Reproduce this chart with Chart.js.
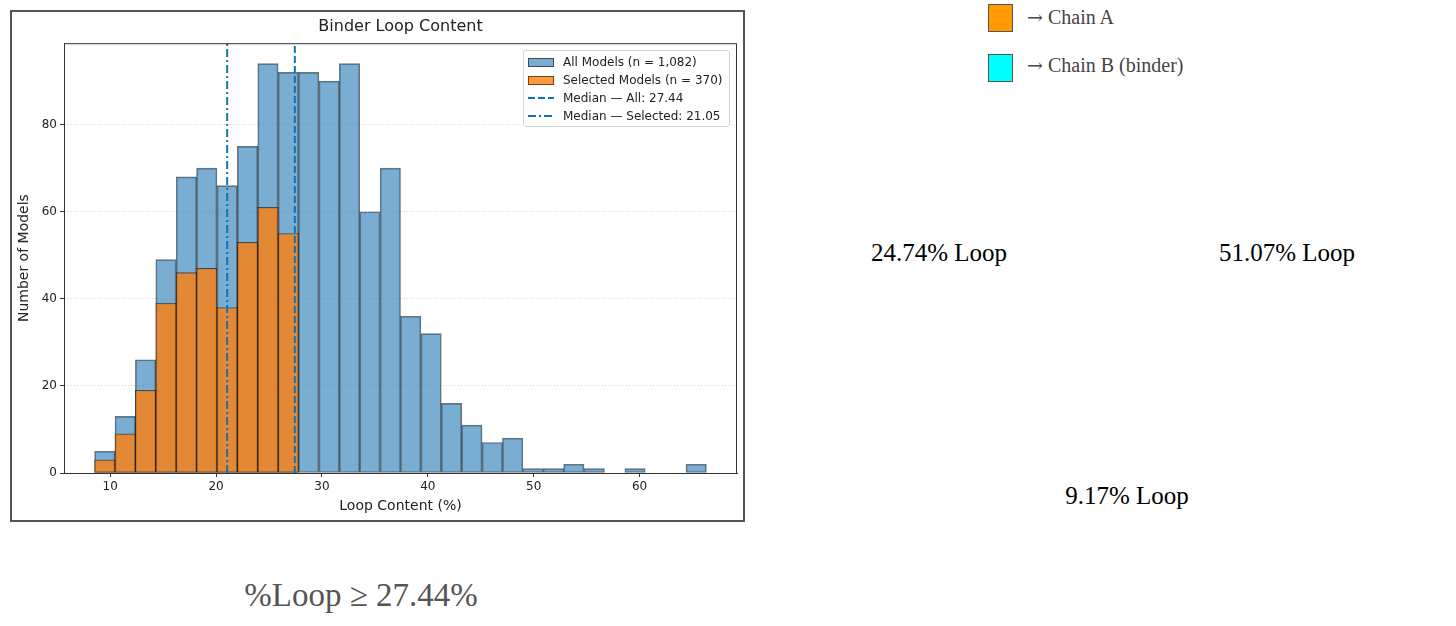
<!DOCTYPE html>
<html>
<head>
<meta charset="utf-8">
<title>Binder Loop Content</title>
<script src="https://cdn.jsdelivr.net/npm/chart.js@4.4.1/dist/chart.umd.min.js"></script>
<style>
  body {
    margin: 0;
    width: 1456px;
    height: 626px;
    background: #fff;
    position: relative;
    overflow: hidden;
    font-family: "DejaVu Sans", sans-serif;
  }
  #box {
    position: absolute;
    left: 10px;
    top: 10px;
    width: 731px;
    height: 508px;
    border: 2px solid #555;
  }
  #legend {
    position: absolute;
    left: 511px;
    top: 38px;
    padding: 2px 6px 1px 4px;
    border: 1px solid #d4d4d4;
    border-radius: 3px;
    background: rgba(255, 255, 255, 0.85);
    font-size: 12px;
    color: #222;
  }
  #legend .row { height: 18px; display: flex; align-items: center; white-space: nowrap; }
  #legend .sw { width: 26px; height: 10px; margin-right: 9px; flex: none; }
  .serif { position: absolute; font-family: "Liberation Serif", serif; white-space: nowrap; line-height: 1.15; }
  .arrow { font-family: "DejaVu Serif", serif; font-size: 19px; }
  .sq { position: absolute; width: 23px; height: 26px; border: 1.5px solid #555; }
</style>
</head>
<body>
<div id="box">
  <canvas id="hist" width="731" height="508"></canvas>
  <div id="legend"></div>
</div>

<div class="sq" style="left:988px; top:4px; background:#ff9a00;"></div>
<div class="serif" style="left:1027px; top:6px; font-size:20px; color:#444;"><span class="arrow">→</span> Chain A</div>
<div class="sq" style="left:988px; top:54px; background:#00ffff;"></div>
<div class="serif" style="left:1027px; top:54px; font-size:20px; color:#444;"><span class="arrow">→</span> Chain B (binder)</div>

<div class="serif" style="left:939px; top:239px; font-size:25px; color:#000; transform:translateX(-50%);">24.74% Loop</div>
<div class="serif" style="left:1287px; top:239px; font-size:25px; color:#000; transform:translateX(-50%);">51.07% Loop</div>
<div class="serif" style="left:1127px; top:482px; font-size:25px; color:#000; transform:translateX(-50%);">9.17% Loop</div>

<div class="serif" style="left:361px; top:577px; font-size:33px; color:#555; transform:translateX(-50%);">%Loop ≥ 27.44%</div>

<script>
// histogram bins (centre of each bin, % loop content)
const binCenters = [
  9.493, 11.419, 13.345, 15.271, 17.197, 19.123, 21.049, 22.975, 24.901, 26.827,
  28.753, 30.679, 32.605, 34.531, 36.457, 38.383, 40.309, 42.235, 44.161, 46.087,
  48.013, 49.939, 51.865, 53.791, 55.717, 57.643, 59.569, 61.495, 63.421, 65.347
];
const allCounts = [
  5, 13, 26, 49, 68, 70, 66, 75, 94, 92,
  92, 90, 94, 60, 70, 36, 32, 16, 11, 7,
  8, 1, 1, 2, 1, 0, 1, 0, 0, 2
];
const selectedCounts = [
  3, 9, 19, 39, 46, 47, 38, 53, 61, 55,
  null, null, null, null, null, null, null, null, null, null,
  null, null, null, null, null, null, null, null, null, null
];
const medianAll = 27.44;
const medianSelected = 21.05;

const xTicks = [10, 20, 30, 40, 50, 60];
const yTicks = [0, 20, 40, 60, 80];
const xRange = [5.64, 69.2];
const yRange = [0, 98.7];

const labels = [
  "All Models (n = 1,082)",
  "Selected Models (n = 370)",
  "Median — All: 27.44",
  "Median — Selected: 21.05"
];

const blue = "rgba(31,119,180,0.6)";
const orange = "rgba(255,127,14,0.8)";
const edge = "rgba(0,0,0,0.55)";
const lineBlue = "#0a74b8";

function points(ys) {
  return binCenters.map((x, i) => ({ x: x, y: ys[i] }));
}

// top/right spines like matplotlib
const frame = {
  id: "frame",
  afterDatasetsDraw(chart) {
    const a = chart.chartArea, ctx = chart.ctx;
    ctx.save();
    ctx.strokeStyle = "#333";
    ctx.lineWidth = 1;
    ctx.strokeRect(a.left + 0.5, a.top + 0.5, a.right - a.left - 1, a.bottom - a.top);
    ctx.restore();
  }
};

const ctx = document.getElementById("hist").getContext("2d");
const hist = new Chart(ctx, {
  type: "bar",
  data: {
    datasets: [
      {
        label: labels[0],
        data: points(allCounts),
        backgroundColor: blue,
        borderColor: edge,
        borderWidth: 1,
        borderSkipped: false,
        grouped: false,
        barPercentage: 1,
        categoryPercentage: 1,
        order: 3
      },
      {
        label: labels[1],
        data: points(selectedCounts),
        backgroundColor: orange,
        borderColor: edge,
        borderWidth: 1,
        borderSkipped: false,
        grouped: false,
        barPercentage: 1,
        categoryPercentage: 1,
        order: 2
      },
      {
        type: "line",
        label: labels[2],
        data: [{ x: medianAll, y: yRange[0] }, { x: medianAll, y: yRange[1] }],
        borderColor: lineBlue,
        borderWidth: 2,
        borderDash: [7, 3],
        pointRadius: 0,
        order: 1
      },
      {
        type: "line",
        label: labels[3],
        data: [{ x: medianSelected, y: yRange[0] }, { x: medianSelected, y: yRange[1] }],
        borderColor: lineBlue,
        borderWidth: 2,
        borderDash: [8, 3, 2, 3],
        pointRadius: 0,
        order: 0
      }
    ]
  },
  options: {
    responsive: false,
    animation: false,
    layout: { padding: { left: 0, right: 6, top: 0, bottom: 0 } },
    plugins: {
      legend: { display: false },
      tooltip: { enabled: false },
      title: {
        display: true,
        text: "Binder Loop Content",
        fullSize: false,
        color: "#222",
        font: { family: "DejaVu Sans", size: 16, weight: "normal" },
        padding: { top: 5, bottom: 7 }
      }
    },
    scales: {
      x: {
        type: "linear",
        offset: false,
        min: xRange[0],
        max: xRange[1],
        afterBuildTicks: (s) => { s.ticks = xTicks.map((v) => ({ value: v })); },
        afterFit: (s) => { s.height = 47; },
        ticks: { color: "#222", padding: 3, font: { family: "DejaVu Sans", size: 12 } },
        grid: { offset: false, drawOnChartArea: false, tickLength: 4, tickColor: "#333" },
        border: { color: "#333" },
        title: {
          display: true,
          text: "Loop Content (%)",
          color: "#222",
          font: { family: "DejaVu Sans", size: 14 },
          padding: { top: 4, bottom: 5 }
        }
      },
      y: {
        type: "linear",
        min: yRange[0],
        max: yRange[1],
        afterBuildTicks: (s) => { s.ticks = yTicks.map((v) => ({ value: v })); },
        afterFit: (s) => { s.width = 52; },
        ticks: { color: "#222", padding: 3, font: { family: "DejaVu Sans", size: 12 } },
        grid: { color: "rgba(0,0,0,0.16)", tickLength: 4, tickColor: "#333", tickBorderDash: [] },
        border: { color: "#333", dash: [1, 2] },
        title: {
          display: true,
          text: "Number of Models",
          color: "#222",
          font: { family: "DejaVu Sans", size: 14 },
          padding: { top: 4, bottom: 0 }
        }
      }
    }
  },
  plugins: [frame]
});

// legend box, built from the datasets (upper right, inside the axes)
const legend = document.getElementById("legend");
hist.data.datasets.forEach((ds) => {
  const row = document.createElement("div");
  row.className = "row";
  let sw;
  if (ds.type === "line") {
    sw = `<svg class="sw" viewBox="0 0 26 10"><line x1="0" y1="5" x2="26" y2="5" stroke="${ds.borderColor}" stroke-width="2" stroke-dasharray="${ds.borderDash.join(",")}"/></svg>`;
  } else {
    sw = `<span class="sw" style="box-sizing:border-box;height:9px;background:${ds.backgroundColor};border:1px solid ${ds.borderColor}"></span>`;
  }
  row.innerHTML = sw + `<span>${ds.label}</span>`;
  legend.appendChild(row);
});
</script>
</body>
</html>
